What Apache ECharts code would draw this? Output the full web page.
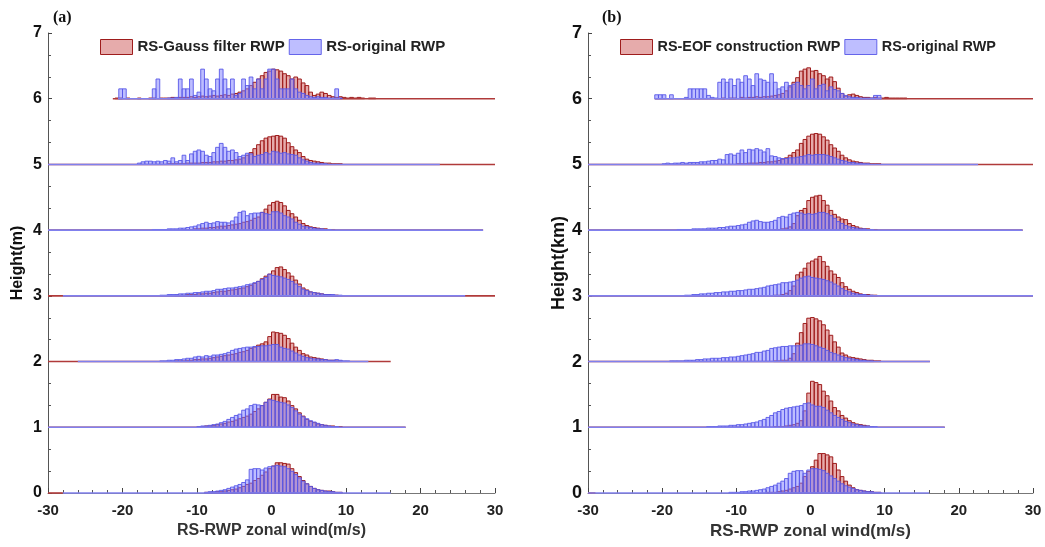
<!DOCTYPE html>
<html>
<head>
<meta charset="utf-8">
<script src="https://cdn.jsdelivr.net/npm/echarts@6/dist/echarts.min.js"></script>
<style>
  html, body { margin: 0; padding: 0; background: #fff; }
  #chart { width: 1045px; height: 547px; }
</style>
</head>
<body>
<div id="chart"></div>
<script>
// histogram bin width (m/s); every list below is one ridge, index = height level (km)
const BIN = 0.5;

// ---- panel (a): Gauss filtered vs original ----
const gaussStart = [-9, -10, -13, -13, -12, -14, -21];
const gauss0 = [0.01,0.01,0.01,0.02,0.02,0.03,0.04,0.05,0.06,0.08,0.10,0.13,0.15,0.19,0.22,0.27,0.32,0.37,0.41,0.46,0.46,0.45,0.44,0.37,0.31,0.25,0.19,0.14,0.10,0.07,0.05,0.04,0.03,0.03,0.02,0.01,0.01];
const gauss1 = [0.01,0.01,0.02,0.02,0.03,0.04,0.05,0.06,0.08,0.09,0.11,0.13,0.15,0.17,0.20,0.24,0.28,0.33,0.38,0.43,0.50,0.50,0.46,0.45,0.40,0.33,0.28,0.22,0.17,0.12,0.09,0.07,0.05,0.04,0.03,0.02,0.02,0.01,0.01];
const gauss2 = [0.01,0.01,0.01,0.02,0.02,0.03,0.03,0.04,0.04,0.05,0.06,0.07,0.08,0.09,0.10,0.11,0.12,0.14,0.15,0.17,0.20,0.22,0.25,0.27,0.30,0.38,0.45,0.44,0.43,0.40,0.35,0.28,0.22,0.17,0.12,0.10,0.07,0.06,0.05,0.04,0.03,0.02,0.02,0.01,0.01];
const gauss3 = [0.01,0.01,0.01,0.02,0.02,0.02,0.03,0.03,0.04,0.04,0.05,0.06,0.07,0.07,0.08,0.09,0.10,0.11,0.12,0.14,0.16,0.19,0.22,0.26,0.30,0.33,0.38,0.43,0.44,0.40,0.35,0.30,0.24,0.18,0.12,0.09,0.06,0.05,0.04,0.03,0.02,0.02,0.01,0.01];
const gauss4 = [0.01,0.01,0.01,0.02,0.02,0.03,0.03,0.04,0.04,0.05,0.06,0.06,0.07,0.08,0.09,0.10,0.12,0.13,0.15,0.18,0.20,0.27,0.32,0.38,0.42,0.44,0.42,0.37,0.30,0.25,0.20,0.15,0.10,0.07,0.05,0.04,0.03,0.02,0.02,0.01,0.01];
const gauss5 = [0.01,0.01,0.01,0.01,0.01,0.02,0.02,0.02,0.02,0.03,0.03,0.03,0.04,0.04,0.05,0.05,0.06,0.06,0.07,0.08,0.10,0.14,0.18,0.24,0.30,0.36,0.40,0.42,0.43,0.44,0.43,0.40,0.33,0.27,0.22,0.18,0.12,0.08,0.06,0.05,0.04,0.03,0.02,0.02,0.01,0.01,0.01];
const gauss6 = [0.01,0.01,0,0.01,0,0,0.01,0,0,0.01,0.01,0,0.01,0.01,0.01,0.02,0.01,0.02,0.02,0.02,0.03,0.02,0.03,0.04,0.03,0.04,0.05,0.04,0.05,0.06,0.05,0.07,0.08,0.10,0.12,0.15,0.20,0.25,0.30,0.35,0.40,0.42,0.45,0.44,0.42,0.38,0.35,0.30,0.33,0.30,0.24,0.20,0.10,0.05,0.07,0.10,0.08,0.05,0.03,0.02,0.03,0.02,0.01,0.02,0.01,0.02,0.01,0,0.01,0.01];

const origAStart = [-9, -10, -15, -15, -16, -18, -21];
const origA0 = [0.01,0.02,0.02,0.03,0.04,0.05,0.07,0.09,0.11,0.13,0.16,0.20,0.36,0.37,0.37,0.35,0.38,0.40,0.41,0.42,0.41,0.40,0.37,0.33,0.28,0.23,0.18,0.14,0.10,0.07,0.05,0.04,0.03,0.02,0.02,0.01,0.01];
const origA1 = [0.01,0.02,0.02,0.03,0.04,0.05,0.07,0.09,0.12,0.15,0.18,0.20,0.26,0.28,0.33,0.35,0.34,0.33,0.38,0.42,0.41,0.39,0.38,0.37,0.34,0.30,0.25,0.20,0.16,0.13,0.10,0.08,0.06,0.04,0.03,0.02,0.01,0.01];
const origA2 = [0.01,0.01,0.02,0.02,0.03,0.03,0.04,0.05,0.05,0.07,0.08,0.07,0.09,0.08,0.10,0.10,0.11,0.12,0.14,0.17,0.19,0.20,0.21,0.22,0.22,0.23,0.23,0.24,0.24,0.25,0.26,0.26,0.22,0.20,0.19,0.16,0.13,0.10,0.08,0.06,0.05,0.04,0.04,0.03,0.03,0.02,0.02,0.03,0.02,0.01,0.01];
const origA3 = [0.01,0.01,0.02,0.02,0.02,0.03,0.03,0.04,0.04,0.05,0.05,0.06,0.07,0.07,0.08,0.10,0.10,0.11,0.12,0.12,0.13,0.14,0.15,0.17,0.18,0.20,0.22,0.25,0.28,0.33,0.31,0.30,0.29,0.27,0.25,0.22,0.18,0.14,0.10,0.08,0.06,0.05,0.04,0.03,0.02,0.02,0.02,0.01,0.01];
const origA4 = [0.01,0.01,0.01,0.01,0.02,0.02,0.02,0.03,0.03,0.04,0.05,0.06,0.08,0.10,0.12,0.10,0.11,0.13,0.12,0.12,0.11,0.14,0.20,0.27,0.29,0.22,0.25,0.26,0.26,0.27,0.25,0.24,0.28,0.28,0.26,0.22,0.20,0.17,0.12,0.09,0.06,0.05,0.04,0.03,0.02,0.02,0.01,0.01];
const origA5 = [0.02,0.04,0.05,0.05,0.04,0.05,0.04,0.06,0.05,0.10,0.04,0.06,0.14,0.06,0.16,0.20,0.22,0.20,0.14,0.12,0.18,0.26,0.32,0.26,0.20,0.22,0.18,0.12,0.14,0.17,0.16,0.12,0.14,0.15,0.18,0.16,0.20,0.19,0.17,0.18,0.16,0.15,0.14,0.10,0.07,0.05,0.03,0.02,0.02,0.01,0.01];
const origA6 = [0,0.15,0.15,0,0,0,0,0,0,0,0.15,0.30,0,0,0.01,0.01,0.02,0.30,0.15,0.15,0.30,0.05,0.10,0.45,0.30,0.15,0.12,0.30,0.45,0.30,0.15,0.30,0.05,0.08,0.30,0.20,0.33,0.15,0.30,0.15,0.30,0.45,0.45,0.30,0.15,0.15,0.15,0.30,0.15,0.10,0.08,0.05,0.03,0.02,0.03,0.02,0.02,0.01,0.01,0.15,0.01];

// ---- panel (b): EOF construction vs original ----
const eofStart = [-6, -5, -5, -5, -5, -10, -12];
const eof0 = [0.01,0.01,0.01,0.02,0.03,0.04,0.06,0.08,0.10,0.15,0.25,0.33,0.40,0.50,0.60,0.60,0.58,0.55,0.45,0.35,0.25,0.18,0.12,0.08,0.05,0.04,0.03,0.02,0.02,0.01,0.01];
const eof1 = [0.01,0.01,0.01,0.02,0.03,0.04,0.06,0.10,0.25,0.52,0.70,0.68,0.65,0.55,0.48,0.40,0.30,0.25,0.18,0.14,0.10,0.07,0.05,0.04,0.03,0.02,0.01];
const eof2 = [0.01,0.01,0.02,0.02,0.05,0.12,0.28,0.44,0.58,0.66,0.67,0.65,0.62,0.56,0.48,0.40,0.30,0.22,0.13,0.10,0.07,0.06,0.05,0.04,0.03,0.02,0.02,0.01,0.01];
const eof3 = [0.01,0.01,0.02,0.04,0.08,0.15,0.32,0.36,0.42,0.50,0.53,0.56,0.60,0.52,0.45,0.38,0.33,0.28,0.20,0.14,0.10,0.07,0.05,0.03,0.02,0.02,0.01,0.01];
const eof4 = [0.01,0.01,0.02,0.03,0.05,0.10,0.22,0.30,0.33,0.45,0.50,0.52,0.53,0.45,0.38,0.30,0.24,0.20,0.17,0.16,0.10,0.07,0.05,0.03,0.02,0.02,0.01,0.01];
const eof5 = [0.01,0.01,0.01,0.02,0.02,0.02,0.03,0.03,0.04,0.04,0.05,0.06,0.08,0.10,0.14,0.18,0.22,0.32,0.38,0.43,0.46,0.47,0.46,0.42,0.37,0.30,0.25,0.20,0.14,0.10,0.07,0.05,0.04,0.03,0.02,0.02,0.01,0.01,0.01];
const eof6 = [0.01,0,0.01,0.01,0,0.02,0.01,0.02,0.02,0.03,0.02,0.03,0.03,0.04,0.05,0.06,0.08,0.12,0.18,0.25,0.32,0.42,0.45,0.47,0.42,0.43,0.38,0.35,0.30,0.33,0.26,0.16,0.08,0.04,0.06,0.07,0.05,0.03,0.02,0.02,0.01,0.02,0.01,0.01,0.02,0.01,0.01,0.01,0.01,0.01];

const origBStart = [-11, -14, -19, -17, -18, -20, -21];
const origB0 = [0.01,0.01,0.01,0.02,0.02,0.03,0.03,0.04,0.05,0.06,0.08,0.10,0.12,0.15,0.18,0.22,0.30,0.33,0.34,0.34,0.30,0.35,0.37,0.37,0.36,0.34,0.30,0.26,0.22,0.18,0.14,0.11,0.09,0.07,0.05,0.04,0.03,0.02,0.02,0.01,0.01];
const origB1 = [0.01,0.01,0.01,0.02,0.02,0.02,0.03,0.03,0.04,0.04,0.05,0.06,0.07,0.08,0.10,0.12,0.15,0.18,0.22,0.24,0.27,0.29,0.30,0.31,0.32,0.33,0.36,0.37,0.34,0.32,0.32,0.30,0.26,0.22,0.18,0.15,0.12,0.09,0.07,0.05,0.04,0.03,0.02,0.02,0.01,0.01];
const origB2 = [0.01,0.01,0.01,0.01,0.02,0.02,0.02,0.03,0.03,0.04,0.04,0.05,0.05,0.05,0.06,0.06,0.07,0.07,0.08,0.09,0.10,0.11,0.12,0.14,0.14,0.16,0.17,0.20,0.21,0.22,0.23,0.23,0.24,0.24,0.24,0.25,0.27,0.27,0.26,0.24,0.22,0.20,0.17,0.14,0.12,0.10,0.08,0.06,0.05,0.04,0.03,0.02,0.02,0.01,0.01];
const origB3 = [0.01,0.01,0.02,0.02,0.03,0.03,0.04,0.04,0.05,0.05,0.06,0.06,0.07,0.07,0.08,0.08,0.09,0.10,0.10,0.11,0.12,0.13,0.15,0.16,0.17,0.18,0.20,0.20,0.21,0.22,0.24,0.27,0.29,0.30,0.28,0.27,0.26,0.25,0.23,0.21,0.18,0.15,0.11,0.08,0.06,0.04,0.03,0.02,0.02,0.01,0.01];
const origB4 = [0.01,0.01,0.01,0.01,0.02,0.02,0.02,0.02,0.03,0.03,0.03,0.04,0.04,0.05,0.06,0.06,0.07,0.08,0.09,0.12,0.14,0.15,0.13,0.12,0.12,0.13,0.15,0.19,0.21,0.20,0.24,0.26,0.27,0.26,0.24,0.25,0.24,0.25,0.27,0.27,0.25,0.22,0.18,0.13,0.10,0.07,0.05,0.04,0.03,0.02,0.02,0.01,0.01];
const origB5 = [0.01,0.02,0.01,0.02,0.02,0.03,0.02,0.03,0.03,0.03,0.04,0.04,0.05,0.06,0.06,0.08,0.07,0.15,0.16,0.14,0.17,0.22,0.18,0.23,0.22,0.24,0.22,0.19,0.24,0.13,0.12,0.10,0.09,0.09,0.10,0.10,0.11,0.12,0.13,0.15,0.14,0.15,0.15,0.15,0.14,0.12,0.10,0.08,0.06,0.05,0.03,0.03,0.02,0.02,0.01,0.01];
const origB6 = [0.06,0.06,0.06,0,0.06,0,0,0,0.02,0.15,0.15,0.15,0.15,0.15,0.05,0.02,0.01,0.25,0.30,0.25,0.30,0.20,0.30,0.25,0.35,0.30,0.20,0.38,0.30,0.28,0.25,0.38,0.25,0.15,0.18,0.25,0.20,0.22,0.25,0.20,0.15,0.20,0.30,0.15,0.20,0.22,0.12,0.18,0.14,0.12,0.08,0.05,0.03,0.02,0.02,0.01,0.01,0.01,0.01,0.05,0.05];

// zero lines of each ridge [from, to], index = level
const gaussLine = [[-30, -28], [-30, 18], [-30, 16], [-30, 30], [-30, 28.4], [-30, 30], [-21.3, 30]];
const origALine = [[-28, 16], [-30, 18], [-26, 13], [-28, 26], [-30, 28.4], [-30, 22.6], [-20.6, 9.2]];
const eofLine = [[-30, -29], [-30, 18.1], [-30, 16.1], [-30, 30], [-30, 28.6], [-30, 30], [-21, 30]];
const origBLine = [[-30, 16], [-30, 18.1], [-30, 16.1], [-30, 30], [-30, 28.6], [-30, 22.6], [-21, 9.6]];

const RED_FILL = 'rgba(195,55,55,0.42)';
const RED_EDGE = '#9e1c1c';
const BLUE_FILL = 'rgba(125,125,255,0.5)';
const BLUE_EDGE = 'rgba(88,88,232,0.9)';
const FONT = 'Liberation Sans, Arial, sans-serif';

function bars(name, starts, lists, axis, fill, edge) {
  const data = [];
  lists.forEach((arr, lvl) => {
    arr.forEach((v, i) => {
      if (v > 0) {
        const x0 = starts[lvl] + i * BIN;
        data.push([x0, x0 + BIN, lvl, lvl + v]);
      }
    });
  });
  return {
    name: name,
    type: 'custom',
    xAxisIndex: axis,
    yAxisIndex: axis,
    itemStyle: { color: fill, borderColor: edge, borderWidth: 1 },
    encode: { x: [0, 1], y: [2, 3] },
    renderItem: (params, api) => {
      const p0 = api.coord([api.value(0), api.value(3)]);
      const p1 = api.coord([api.value(1), api.value(2)]);
      return {
        type: 'rect',
        shape: { x: p0[0], y: p0[1], width: p1[0] - p0[0], height: p1[1] - p0[1] },
        style: { fill: fill, stroke: edge, lineWidth: 1 }
      };
    },
    data: data,
    silent: true
  };
}

function zeroLines(ranges, axis, color) {
  return {
    type: 'custom',
    xAxisIndex: axis,
    yAxisIndex: axis,
    encode: { x: [0, 1], y: 2 },
    renderItem: (params, api) => {
      const a = api.coord([api.value(0), api.value(2)]);
      const b = api.coord([api.value(1), api.value(2)]);
      return {
        type: 'line',
        shape: { x1: a[0], y1: a[1], x2: b[0], y2: b[1] },
        style: { stroke: color, lineWidth: 1.6 }
      };
    },
    data: ranges.map((r, lvl) => [r[0], r[1], lvl]),
    silent: true
  };
}

function xAx(idx, size) {
  return {
    type: 'value', gridIndex: idx, min: -30, max: 30, interval: 10,
    name: 'RS-RWP zonal wind(m/s)', nameLocation: 'middle', nameGap: 29,
    nameTextStyle: { fontFamily: FONT, fontWeight: 'bold', fontSize: size, color: '#333' },
    axisLine: { onZero: false, lineStyle: { color: '#777', width: 1 } },
    axisTick: { inside: true, length: 5, lineStyle: { color: '#444' } },
    minorTick: { show: true, splitNumber: 5, length: 3, lineStyle: { color: '#555' } },
    axisLabel: { margin: 10, fontFamily: FONT, fontWeight: 'bold', fontSize: 15, color: '#222' },
    splitLine: { show: false }
  };
}

function yAx(idx, name, size, gap) {
  return {
    type: 'value', gridIndex: idx, min: 0, max: 7, interval: 1,
    name: name, nameLocation: 'middle', nameGap: gap,
    nameTextStyle: { fontFamily: FONT, fontWeight: 'bold', fontSize: size, color: '#111' },
    axisLine: { show: true, onZero: false, lineStyle: { color: '#555', width: 1 } },
    axisTick: { inside: true, length: 4, lineStyle: { color: '#444' } },
    minorTick: { show: true, splitNumber: 3, length: 3, lineStyle: { color: '#555' } },
    axisLabel: { margin: 6, fontFamily: FONT, fontWeight: 'bold', fontSize: size, color: '#111' },
    splitLine: { show: false }
  };
}

function legendFor(left, redName, size) {
  return {
    left: left, top: 39, padding: 0, itemWidth: 32, itemHeight: 15, itemGap: 4, icon: 'rect',
    textStyle: { fontFamily: FONT, fontWeight: 'bold', fontSize: size, color: '#222' },
    data: [
      { name: redName, itemStyle: { color: RED_FILL, borderColor: RED_EDGE, borderWidth: 1 } },
      { name: 'RS-original RWP', itemStyle: { color: BLUE_FILL, borderColor: BLUE_EDGE, borderWidth: 1 } }
    ],
    selectedMode: false
  };
}

const chart = echarts.init(document.getElementById('chart'));
chart.setOption({
  animation: false,
  backgroundColor: '#fff',
  grid: [
    { left: 48, right: 550, top: 33, bottom: 54 },
    { left: 588, right: 12, top: 33, bottom: 54 }
  ],
  xAxis: [xAx(0, 16), xAx(1, 17)],
  yAxis: [yAx(0, 'Height(m)', 16, 22), yAx(1, 'Height(km)', 18, 16)],
  legend: [legendFor(100, 'RS-Gauss filter RWP', 15), legendFor(620, 'RS-EOF construction RWP', 14.4)],
  graphic: [
    { type: 'text', left: 53, top: 10, style: { text: '(a)', font: 'bold 16px "Liberation Serif", serif', fill: '#111' } },
    { type: 'text', left: 602, top: 10, style: { text: '(b)', font: 'bold 16px "Liberation Serif", serif', fill: '#111' } }
  ],
  series: [
    bars('RS-Gauss filter RWP', gaussStart, [gauss0, gauss1, gauss2, gauss3, gauss4, gauss5, gauss6], 0, RED_FILL, RED_EDGE),
    zeroLines(gaussLine, 0, '#b03a3a'),
    bars('RS-original RWP', origAStart, [origA0, origA1, origA2, origA3, origA4, origA5, origA6], 0, BLUE_FILL, BLUE_EDGE),
    zeroLines(origALine, 0, '#8080ee'),
    bars('RS-EOF construction RWP', eofStart, [eof0, eof1, eof2, eof3, eof4, eof5, eof6], 1, RED_FILL, RED_EDGE),
    zeroLines(eofLine, 1, '#b03a3a'),
    bars('RS-original RWP', origBStart, [origB0, origB1, origB2, origB3, origB4, origB5, origB6], 1, BLUE_FILL, BLUE_EDGE),
    zeroLines(origBLine, 1, '#8080ee')
  ]
});
</script>
</body>
</html>
